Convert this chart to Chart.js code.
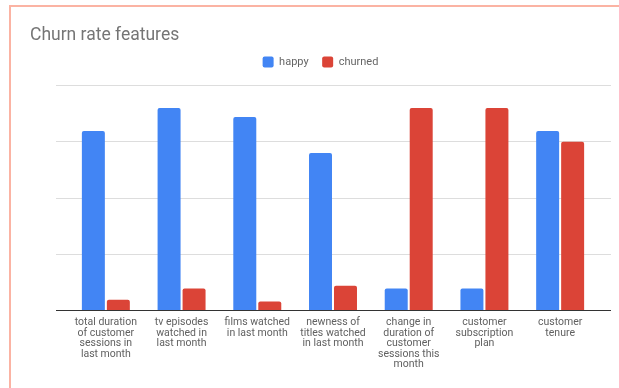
<!DOCTYPE html>
<html>
<head>
<meta charset="utf-8">
<script src="https://cdn.jsdelivr.net/npm/chart.js@4/dist/chart.umd.min.js"></script>
<style>
  html, body { margin: 0; padding: 0; background: #fff; }
  body { width: 619px; height: 388px; overflow: hidden; position: relative; }
  /* cadre saumon autour de la carte */
  .frame {
    position: absolute; left: 9px; top: 5px; right: -20px; bottom: -20px;
    border-left: 2px solid #fbb3a3; border-top: 2px solid #fbb3a3;
  }
  #churn-chart { position: absolute; left: 0; top: 0; }
</style>
</head>
<body>
<div class="frame"></div>
<canvas id="churn-chart" width="619" height="388"></canvas>
<script>
// Données du graphique
const categories = [
    ['total duration', 'of customer', 'sessions in', 'last month'],
    ['tv episodes', 'watched in', 'last month'],
    ['films watched', 'in last month'],
    ['newness of', 'titles watched', 'in last month'],
    ['change in', 'duration of', 'customer', 'sessions this', 'month'],
    ['customer', 'subscription', 'plan'],
    ['customer', 'tenure']
];
const happyValues = [3.19, 3.6, 3.44, 2.8, 0.39, 0.39, 3.19];
const churnedValues = [0.19, 0.39, 0.16, 0.44, 3.6, 3.6, 3.0];
const yTicks = [0, 1, 2, 3, 4];

const FONT = 'Roboto, "Noto Sans", Arial, sans-serif';
const gridColor = ctx => (ctx.tick && ctx.tick.value === 0 ? '#333333' : '#dddddd');

// Espace sous la légende avant la zone du graphique
const legendGap = {
    id: 'legendGap',
    beforeLayout(chart) {
        const lg = chart.legend;
        if (lg && !lg._gapFit) {
            const fit = lg.fit;
            lg.fit = function () {
                fit.call(this);
                this.height += 8;
            };
            lg._gapFit = true;
        }
    }
};

const ctx = document.getElementById('churn-chart');
new Chart(ctx, {
    type: 'bar',
    data: {
        labels: categories,
        datasets: [
            {
                label: 'happy',
                data: happyValues,
                backgroundColor: '#4285f4',
                borderWidth: 0,
                borderRadius: 2
            },
            {
                label: 'churned',
                data: churnedValues,
                backgroundColor: '#db4437',
                borderWidth: 0,
                borderRadius: 2
            }
        ]
    },
    options: {
        responsive: false,
        animation: false,
        devicePixelRatio: 1,
        categoryPercentage: 0.66,
        barPercentage: 0.92,
        layout: { padding: { left: 30, right: 8, top: 22, bottom: 11 } },
        plugins: {
            title: {
                display: true,
                text: 'Churn rate features',
                align: 'start',
                color: '#757575',
                font: { family: FONT, size: 17.5, weight: 'normal', lineHeight: 15 / 17.5 },
                padding: { top: 6, bottom: 0 }
            },
            legend: {
                position: 'top',
                labels: {
                    boxWidth: 11,
                    boxHeight: 11,
                    padding: 13.5,
                    useBorderRadius: true,
                    borderRadius: 2,
                    color: '#666666',
                    font: { family: FONT, size: 11 }
                }
            },
            tooltip: { enabled: false }
        },
        scales: {
            x: {
                grid: { display: false, drawTicks: false },
                border: { display: false },
                ticks: {
                    autoSkip: false,
                    maxRotation: 0,
                    minRotation: 0,
                    padding: 7,
                    color: '#616161',
                    font: { family: FONT, size: 10.5, lineHeight: 1.0 }
                }
            },
            y: {
                min: yTicks[0],
                max: yTicks[yTicks.length - 1],
                afterBuildTicks: scale => { scale.ticks = yTicks.map(v => ({ value: v })); },
                afterFit: scale => { scale.width = 38; },
                grid: { color: gridColor, drawTicks: true, tickLength: 12 },
                border: { display: false },
                ticks: { display: false }
            },
            // axe fantôme à droite pour prolonger les lignes de grille
            y2: {
                position: 'right',
                min: yTicks[0],
                max: yTicks[yTicks.length - 1],
                afterBuildTicks: scale => { scale.ticks = yTicks.map(v => ({ value: v })); },
                afterFit: scale => { scale.width = 13; },
                grid: { color: gridColor, drawOnChartArea: false, drawTicks: true, tickLength: 13 },
                border: { display: false },
                ticks: { display: false }
            }
        }
    },
    plugins: [legendGap]
});
</script>
</body>
</html>
